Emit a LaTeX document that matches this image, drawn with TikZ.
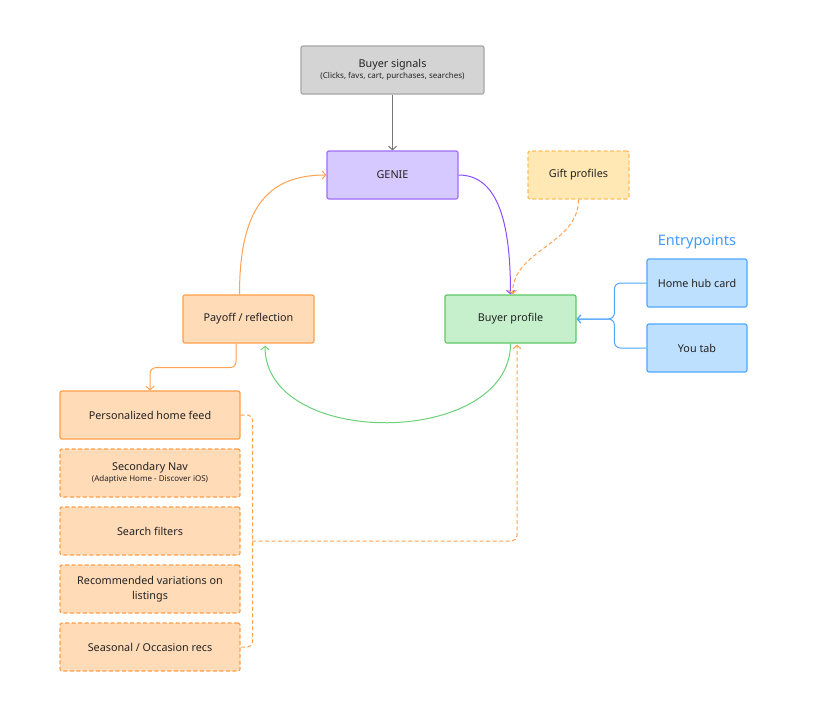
\documentclass[tikz,border=0pt]{standalone}
\usepackage{fontspec}
\setmainfont{Noto Sans}
\usetikzlibrary{arrows.meta,calc}
\definecolor{txt}{HTML}{222222}
\definecolor{grayfill}{HTML}{D4D4D4}
\definecolor{graydraw}{HTML}{A6A6A6}
\definecolor{grayline}{HTML}{777777}
\definecolor{purfill}{HTML}{D6C9FF}
\definecolor{purdraw}{HTML}{9F6CFF}
\definecolor{purline}{HTML}{8A4DFF}
\definecolor{yelfill}{HTML}{FFE8B3}
\definecolor{yeldraw}{HTML}{FFBE5C}
\definecolor{bluefill}{HTML}{BEE0FF}
\definecolor{bluedraw}{HTML}{4FA8FF}
\definecolor{bluetxt}{HTML}{3C9CFF}
\definecolor{grnfill}{HTML}{C6F0CC}
\definecolor{grndraw}{HTML}{5DC868}
\definecolor{grnline}{HTML}{6CD07A}
\definecolor{orfill}{HTML}{FFDBB7}
\definecolor{ordraw}{HTML}{FF9F47}
\definecolor{orline}{HTML}{FFA352}
\newcommand{\smalltxt}[1]{{\fontsize{8}{9.5}\selectfont #1}}
\tikzset{
  box/.style={rectangle, rounded corners=2pt, line width=1.2pt, minimum height=48pt,
    align=center, text=txt, font=\fontsize{10.8}{13.5}\selectfont, inner sep=2pt},
  narrow/.style={box, minimum width=131pt},
  wide/.style={box, minimum width=180pt},
  ebox/.style={box, minimum width=100pt},
  dsh/.style={dash pattern=on 4pt off 2.5pt},
  tip/.style={-{Straight Barb[length=3.5pt,width=8pt]}}
}
\begin{document}
\begin{tikzpicture}[x=1pt,y=-1pt]
\useasboundingbox (0,0) rectangle (827,705);
\fill[white] (0,0) rectangle (827,705);

\node[box, minimum width=183pt, fill=grayfill, draw=graydraw] (sig) at (392.5,70)
  {Buyer signals\\[-2pt]\smalltxt{(Clicks, favs, cart, purchases, searches)}};
\node[narrow, fill=purfill, draw=purdraw] (genie) at (392.5,175) {GENIE};
\node[ebox, minimum width=101pt, fill=yelfill, draw=yeldraw, dsh] (gift) at (578.5,175) {Gift profiles};
\node[text=bluetxt, font=\fontsize{14.5}{17}\selectfont] (entry) at (697,242) {Entrypoints};
\node[ebox, fill=bluefill, draw=bluedraw] (hh) at (697,283) {Home hub card};
\node[ebox, fill=bluefill, draw=bluedraw] (you) at (697,348) {You tab};
\node[narrow, fill=grnfill, draw=grndraw] (bp) at (510.5,319) {Buyer profile};
\node[narrow, fill=orfill, draw=ordraw] (pay) at (248.5,319) {Payoff / reflection};

\node[wide, fill=orfill, draw=ordraw] (hf) at (150,415) {Personalized home feed};
\node[wide, fill=orfill, draw=ordraw, dsh] (sn) at (150,473)
  {Secondary Nav\\[-2pt]\smalltxt{(Adaptive Home - Discover iOS)}};
\node[wide, fill=orfill, draw=ordraw, dsh] (sf) at (150,531) {Search filters};
\node[wide, fill=orfill, draw=ordraw, dsh] (rv) at (150,589) {Recommended variations on\\[1pt]listings};
\node[wide, fill=orfill, draw=ordraw, dsh] (sea) at (150,647) {Seasonal / Occasion recs};

% connectors
\draw[tip, grayline, line width=1pt] (sig.south) -- (genie.north);
\draw[tip, purline, line width=1pt] (genie.east) .. controls +(42,0) and +(0,-65) .. (bp.north);
\draw[tip, orline, line width=1pt, dsh] (gift.south) .. controls +(0,45) and +(0,-45) .. ($(bp.north)+(2,0)$);
\draw[tip, bluedraw, line width=1pt, rounded corners=6pt] (hh.west) -- ++(-32,0) |- (bp.east);
\draw[tip, bluedraw, line width=1pt, rounded corners=6pt] (you.west) -- ++(-32,0) |- (bp.east);
\draw[tip, orline, line width=1pt] ($(pay.north)+(-9,0)$) .. controls +(0,-85) and +(-60,0) .. (genie.west);
\draw[tip, grnline, line width=1pt] (bp.south) .. controls +(0,104) and +(0,104) .. ($(pay.south)+(16.5,2)$);
\draw[tip, orline, line width=1pt, rounded corners=6pt] ($(pay.south)+(-12.5,0)$) -- ++(0,24) -| (hf.north);

\coordinate (jn) at (252,541);
\draw[orline, line width=1pt, dsh, rounded corners=5pt] (hf.east) -- ++(12,0) |- (sea.east);
\draw[tip, orline, line width=1pt, dsh, rounded corners=6pt] (jn) -| ($(bp.south)+(6.5,1)$);
\end{tikzpicture}
\end{document}
